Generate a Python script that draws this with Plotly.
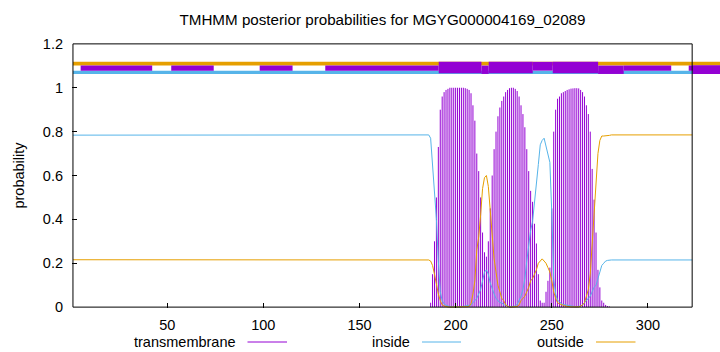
import plotly.graph_objects as go

# ---------------- data ----------------
seq_len = 323
title_text = "TMHMM posterior probabilities for MGYG000004169_02089"
x_ticks = [50, 100, 150, 200, 250, 300]
y_ticks = [0, 0.2, 0.4, 0.6, 0.8, 1.0, 1.2]

# flat plateaus outside the TM window (residue, value)
inside_left = [(1, 0.784), (88, 0.784), (89, 0.787), (185, 0.786)]
outside_left = [(1, 0.216), (88, 0.216), (89, 0.213), (185, 0.214)]
inside_right = [(281, 0.215), (323, 0.215)]
outside_right = [(281, 0.785), (323, 0.785)]

# per-residue posterior in the TM window (residues 186..280)
win_start = 186
tm_win = [0.00, 0.02, 0.15, 0.30, 0.50, 0.73, 0.90, 0.96, 0.98, 0.99,
          0.995, 1.0, 1.0, 1.0, 1.0, 1.0, 1.0, 1.0, 1.0, 0.998,
          0.995, 0.99, 0.975, 0.92, 0.85, 0.70, 0.62, 0.50, 0.34, 0.25,
          0.23, 0.30, 0.45, 0.60, 0.72, 0.80, 0.87, 0.91, 0.94, 0.96,
          0.98, 0.99, 0.998, 1.0, 1.0, 0.995, 0.985, 0.96, 0.92, 0.88,
          0.82, 0.72, 0.62, 0.53, 0.48, 0.38, 0.29, 0.15, 0.03, 0.02,
          0.02, 0.07, 0.12, 0.18, 0.45, 0.80, 0.90, 0.95, 0.96, 0.975,
          0.98, 0.985, 0.99, 0.993, 0.996, 0.997, 0.998, 0.998, 0.997, 0.99,
          0.98, 0.96, 0.92, 0.88, 0.80, 0.63, 0.49, 0.34, 0.17, 0.09,
          0.03, 0.02, 0.01, 0.005, 0.003]
inside_win = [0.785, 0.77, 0.66, 0.55, 0.40, 0.21, 0.07, 0.03, 0.015, 0.008,
              0.004, 0.002, 0.002, 0.001, 0.001, 0.001, 0.001, 0.002, 0.003, 0.004,
              0.005, 0.006, 0.01, 0.02, 0.03, 0.04, 0.06, 0.08, 0.12, 0.16,
              0.17, 0.15, 0.11, 0.08, 0.06, 0.04, 0.03, 0.02, 0.02, 0.01,
              0.01, 0.005, 0.002, 0.002, 0.003, 0.005, 0.012, 0.03, 0.05, 0.08,
              0.13, 0.21, 0.29, 0.35, 0.39, 0.47, 0.54, 0.65, 0.74, 0.76,
              0.77, 0.73, 0.70, 0.66, 0.43, 0.13, 0.06, 0.03, 0.025, 0.015,
              0.012, 0.01, 0.007, 0.005, 0.003, 0.002, 0.002, 0.002, 0.002, 0.005,
              0.01, 0.02, 0.03, 0.04, 0.05, 0.07, 0.09, 0.10, 0.13, 0.15,
              0.19, 0.20, 0.21, 0.213, 0.214]
outside_win = [0.215, 0.21, 0.19, 0.15, 0.10, 0.06, 0.03, 0.01, 0.005, 0.002,
               0.001, 0.0, 0.0, 0.0, 0.0, 0.0, 0.0, 0.0, 0.0, 0.001,
               0.002, 0.004, 0.015, 0.06, 0.12, 0.26, 0.32, 0.42, 0.54, 0.59,
               0.60, 0.55, 0.44, 0.32, 0.22, 0.16, 0.10, 0.07, 0.04, 0.03,
               0.01, 0.005, 0.0, 0.0, 0.0, 0.0, 0.003, 0.01, 0.03, 0.04,
               0.05, 0.07, 0.09, 0.12, 0.13, 0.15, 0.17, 0.20, 0.21, 0.22,
               0.21, 0.20, 0.18, 0.16, 0.12, 0.07, 0.04, 0.02, 0.015, 0.01,
               0.008, 0.005, 0.003, 0.002, 0.001, 0.001, 0.0, 0.0, 0.001, 0.005,
               0.01, 0.02, 0.05, 0.08, 0.15, 0.30, 0.42, 0.56, 0.70, 0.76,
               0.78, 0.78, 0.78, 0.782, 0.783]

# topology track at the top (residue ranges)
track_outside = [(1, 340)]
track_inside = [(1, 340)]
track_tm_mid = [(5.0, 42.2), (52.1, 74.2), (98.1, 115.2), (132.2, 191.2),
                (287.4, 312.1), (321.2, 340)]
track_tm_thick = [(191.2, 213.4), (217.2, 240.1), (250.5, 274.1)]
track_tm_upper = [(240.1, 250.5)]
track_tm_lower = [(213.4, 217.2), (274.1, 287.4), (323.2, 340)]

# ---------------- styling ----------------
C_TM = "#9400D3"
C_IN = "#56B4E9"
C_OUT = "#E69F00"
FONT = "Liberation Sans, Arial, sans-serif"
FS = 14.5

L, R, T, B = 72, 0, 43, 44
W, H = 720, 352
px_per_res = 1.923
x_lo = 0.5
x_hi = x_lo + (W - L - R) / px_per_res
y_lo, y_hi = -0.004, 1.204

residues_win = [win_start + i for i in range(len(tm_win))]

def line_xy(left, win, right):
    xs = [p[0] for p in left] + residues_win + [p[0] for p in right]
    ys = [p[1] for p in left] + win + [p[1] for p in right]
    return xs, ys

# impulses: vertical segments from 0 to the value at each residue
imp_x, imp_y = [], []
for r, v in zip(residues_win, tm_win):
    if v > 0:
        imp_x += [r, r, None]
        imp_y += [0, v, None]

fig = go.Figure()

fig.add_trace(go.Scatter(x=imp_x, y=imp_y, mode="lines",
                         line=dict(color=C_TM, width=1),
                         showlegend=False, hoverinfo="x+y"))
xi, yi = line_xy(inside_left, inside_win, inside_right)
fig.add_trace(go.Scatter(x=xi, y=yi, mode="lines", line=dict(color=C_IN, width=1),
                         showlegend=False))
xo, yo = line_xy(outside_left, outside_win, outside_right)
fig.add_trace(go.Scatter(x=xo, y=yo, mode="lines", line=dict(color=C_OUT, width=1),
                         showlegend=False))

shapes = []
def band(segs, y0, y1, color):
    for a, b in segs:
        shapes.append(dict(type="rect", xref="x", yref="y", x0=a, x1=b, y0=y0, y1=y1,
                           fillcolor=color, line=dict(width=0), layer="above"))

band(track_outside, 1.101, 1.119, C_OUT)
band(track_inside, 1.063, 1.078, C_IN)
band(track_tm_mid, 1.078, 1.101, C_TM)
band(track_tm_thick, 1.066, 1.118, C_TM)
band(track_tm_upper, 1.078, 1.118, C_TM)
band(track_tm_lower, 1.063, 1.101, C_TM)

# plot frame
shapes.append(dict(type="rect", xref="x", yref="y", x0=1, x1=seq_len, y0=0, y1=1.2,
                   line=dict(color="black", width=1), fillcolor="rgba(0,0,0,0)",
                   layer="above"))

# legend (text then line sample, gnuplot style)
def px2paper_x(px):
    return (px - L) / (W - L - R)

def px2paper_y(py):
    return (H - B - py) / (H - T - B)

legend_items = [("transmembrane", C_TM, 238.5, 247.5, 287.0),
                ("inside", C_IN, 412.0, 422.0, 461.0),
                ("outside", C_OUT, 586.0, 596.0, 635.5)]
annotations = []
ly = 342
for name, col, tx, lx0, lx1 in legend_items:
    annotations.append(dict(text=name, xref="paper", yref="paper",
                            x=px2paper_x(tx), y=px2paper_y(ly), xanchor="right",
                            yanchor="middle", showarrow=False,
                            font=dict(family=FONT, size=FS, color="black")))
    shapes.append(dict(type="line", xref="paper", yref="paper",
                       x0=px2paper_x(lx0), x1=px2paper_x(lx1),
                       y0=px2paper_y(ly), y1=px2paper_y(ly),
                       line=dict(color=col, width=1)))

fig.update_layout(
    width=W, height=H,
    margin=dict(l=L, r=R, t=T, b=B, pad=0),
    paper_bgcolor="white", plot_bgcolor="white",
    font=dict(family=FONT, size=FS, color="black"),
    title=dict(text=title_text, x=382.5 / W, xref="container", xanchor="center",
               y=1 - 20 / H, yref="container", yanchor="middle",
               font=dict(family=FONT, size=15.2, color="black")),
    showlegend=False,
    shapes=shapes,
    annotations=annotations,
    xaxis=dict(range=[x_lo, x_hi], tickvals=x_ticks, ticks="inside", ticklen=5,
               tickcolor="black", showgrid=False, zeroline=False, showline=False,
               ticklabelstandoff=6, tickfont=dict(family=FONT, size=FS)),
    xaxis2=dict(range=[x_lo, x_hi], tickvals=x_ticks, ticks="inside", ticklen=5,
                tickcolor="black", overlaying="x", side="top", anchor="y",
                showticklabels=False, showgrid=False, zeroline=False, showline=False),
    yaxis=dict(range=[y_lo, y_hi], tickvals=y_ticks, ticks="inside", ticklen=5,
               tickcolor="black", showgrid=False, zeroline=False, showline=False,
               ticklabelstandoff=8, tickfont=dict(family=FONT, size=FS),
               title=dict(text="probability", standoff=14,
                          font=dict(family=FONT, size=FS))),
)

fig.write_html("out.html")
